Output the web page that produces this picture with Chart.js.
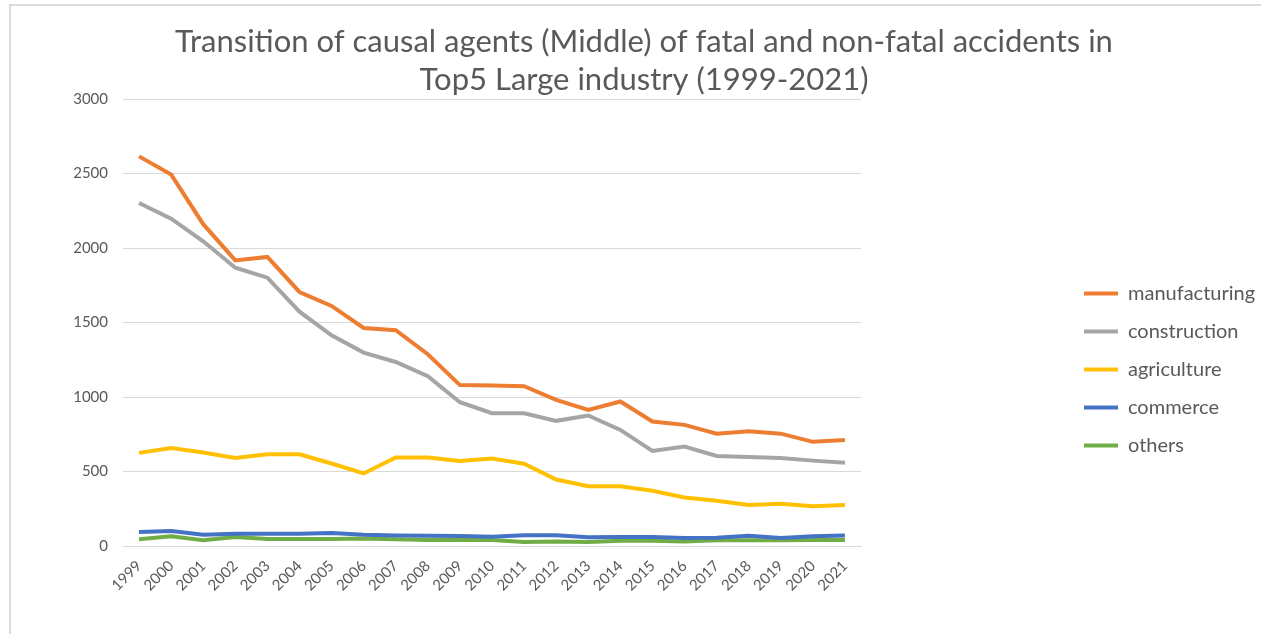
<!DOCTYPE html>
<html>
<head>
<meta charset="utf-8">
<script src="https://cdn.jsdelivr.net/npm/chart.js@4.4.1/dist/chart.umd.min.js"></script>
<style>
  html, body { margin: 0; padding: 0; background: #fff; }
  #wrap { position: relative; width: 1261px; height: 634px; }
  #frame { position: absolute; left: 9px; top: 4px; right: 0; bottom: 0;
           border-left: 2px solid #d9d9d9; border-top: 2px solid #d9d9d9; pointer-events: none; }
  canvas { position: absolute; left: 0; top: 0; }
</style>
</head>
<body>
<div id="wrap">
  <div id="frame"></div>
  <canvas id="chart" width="1261" height="634"></canvas>
</div>
<script>
// data
const years = ['1999', '2000', '2001', '2002', '2003', '2004', '2005', '2006', '2007', '2008', '2009', '2010',
               '2011', '2012', '2013', '2014', '2015', '2016', '2017', '2018', '2019', '2020', '2021'];

const manufacturing = [2615, 2493, 2160, 1917, 1940, 1705, 1611, 1463, 1448, 1287, 1080, 1078,
                       1073, 981, 914, 970, 836, 813, 754, 770, 754, 699, 712];
const construction = [2302, 2197, 2045, 1868, 1801, 1573, 1414, 1298, 1235, 1139, 965, 891,
                      891, 840, 876, 779, 638, 667, 604, 597, 590, 573, 559];
const agriculture = [625, 658, 628, 591, 616, 616, 554, 487, 594, 594, 571, 587,
                     552, 446, 401, 401, 371, 326, 304, 276, 283, 267, 276];
const commerce = [94, 100, 76, 83, 83, 83, 87, 76, 71, 69, 67, 62,
                  72, 72, 59, 61, 61, 54, 56, 68, 54, 66, 70];
const others = [45, 65, 38, 60, 47, 47, 47, 51, 45, 40, 40, 40,
                27, 31, 27, 36, 36, 30, 38, 38, 38, 40, 40];

const yTicks = [0, 500, 1000, 1500, 2000, 2500, 3000];

const titleLines = ['Transition of causal agents (Middle) of fatal and non-fatal accidents in',
                    'Top5 Large industry (1999-2021)'];

const textGrey = '#595959';
const font = 'Lato, "Open Sans", sans-serif';

function series(label, data, color) {
    return {
        label: label,
        data: data,
        borderColor: color,
        backgroundColor: color,
        borderWidth: 4,
        pointRadius: 0,
        pointHoverRadius: 0,
        tension: 0,
        yAxisID: 'y'
    };
}

const ctx = document.querySelector('#chart').getContext('2d');

new Chart(ctx, {
    type: 'line',
    data: {
        labels: years,
        datasets: [
            series('manufacturing', manufacturing, '#ED7D31'),
            series('construction', construction, '#A5A5A5'),
            series('agriculture', agriculture, '#FFC000'),
            series('commerce', commerce, '#4472C4'),
            series('others', others, '#70AD47')
        ]
    },
    options: {
        responsive: false,
        animation: false,
        layout: { padding: { top: 13, left: 27, right: 0, bottom: 0 } },
        plugins: {
            title: {
                display: true,
                text: titleLines,
                color: textGrey,
                font: { family: font, size: 31, weight: 'normal', lineHeight: 1.226 },
                padding: { top: 10, bottom: 0 }
            },
            legend: {
                position: 'right',
                maxWidth: 195,
                // empty title only pushes the entries down
                title: { display: true, text: '', font: { size: 12, lineHeight: 1.2 }, padding: { top: 77.6, bottom: 0 } },
                labels: {
                    usePointStyle: true,
                    pointStyle: 'line',
                    pointStyleWidth: 34,
                    padding: 18,
                    color: textGrey,
                    font: { family: font, size: 20 }
                }
            },
            tooltip: { enabled: false }
        },
        scales: {
            x: {
                offset: true,
                grid: { display: false },
                border: { color: '#d9d9d9', width: 1 },
                ticks: {
                    color: textGrey,
                    font: { family: font, size: 15 },
                    minRotation: 45,
                    maxRotation: 45,
                    autoSkip: false
                },
                afterFit: function (scale) { scale.height = 88; }
            },
            y: {
                min: 0,
                max: 3000,
                afterBuildTicks: function (scale) {
                    scale.ticks = yTicks.map(v => ({ value: v }));
                },
                grid: { color: '#d9d9d9', lineWidth: 1, drawTicks: false },
                border: { display: false },
                ticks: {
                    color: textGrey,
                    font: { family: font, size: 15 },
                    padding: 15,
                    callback: v => String(v)
                },
                afterFit: function (scale) { scale.width = 96; }
            },
            gap: {
                position: 'right',
                display: true,
                grid: { display: false },
                border: { display: false },
                ticks: { display: false },
                afterFit: function (scale) { scale.width = 205; }
            }
        }
    }
});
</script>
</body>
</html>
